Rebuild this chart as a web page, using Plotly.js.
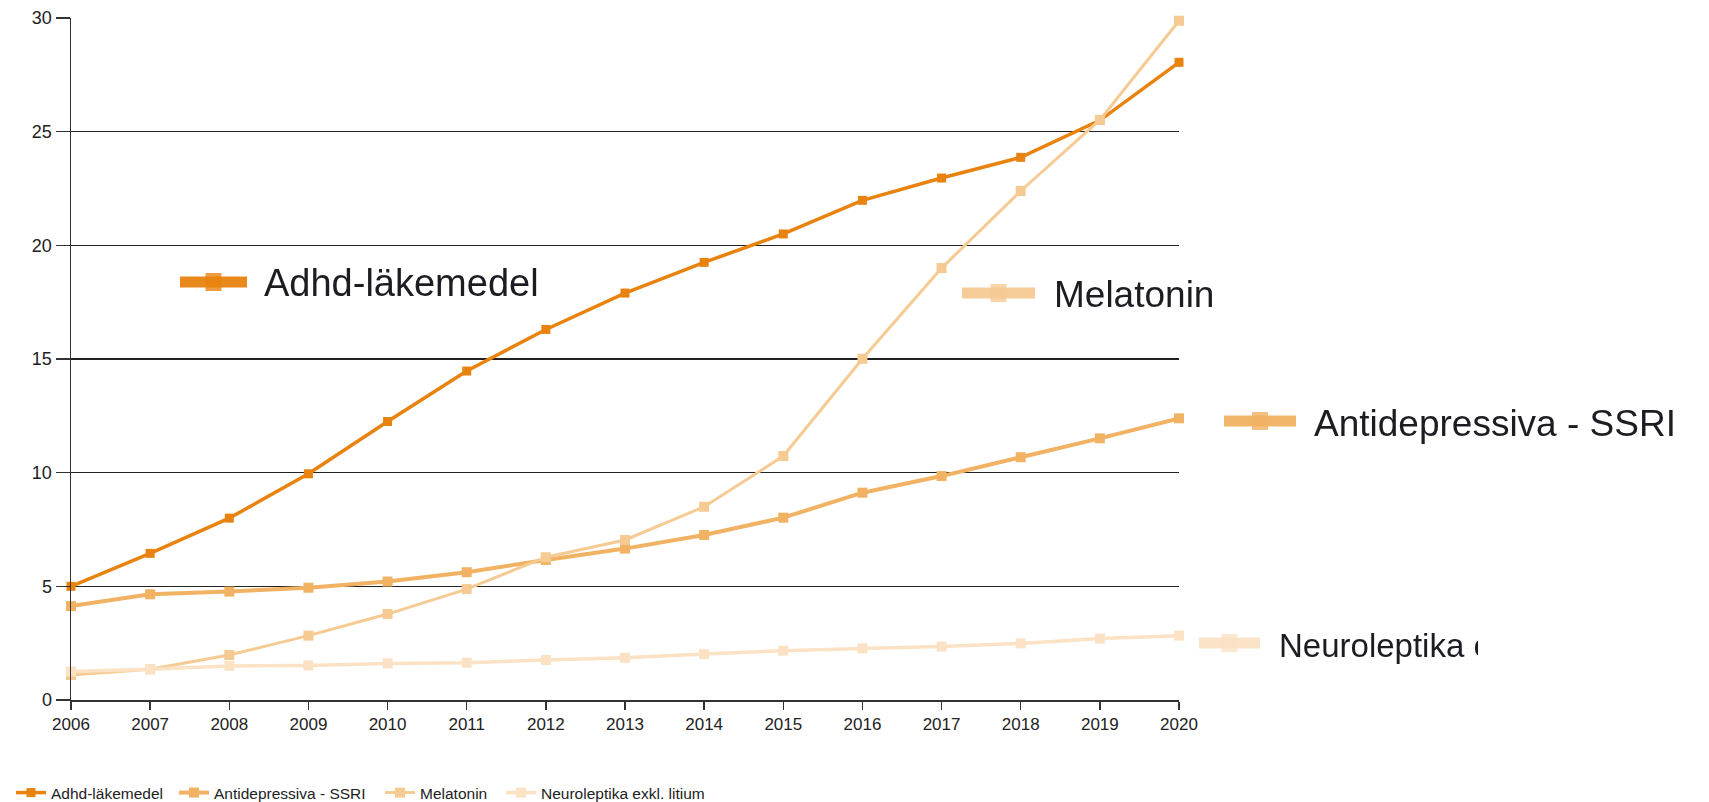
<!DOCTYPE html>
<html>
<head>
<meta charset="utf-8">
<script src="https://cdn.plot.ly/plotly-3.0.1.min.js"></script>
<style>
  html, body { margin: 0; padding: 0; background: #fff; }
  #chart { width: 1709px; height: 802px; }
  /* the enlarged series labels are soft */
  #chart .annotation, #chart .layer-above .shapelayer { filter: blur(0.7px); }
</style>
</head>
<body>
<div id="chart"></div>
<script>
// Years on the x axis
const years = [2006, 2007, 2008, 2009, 2010, 2011, 2012, 2013, 2014, 2015, 2016, 2017, 2018, 2019, 2020];

// Series names
const seriesNames = ["Adhd-läkemedel", "Antidepressiva - SSRI", "Melatonin", "Neuroleptika exkl. litium"];

// Values per series
const adhd        = [5.0, 6.45, 8.0, 9.95, 12.25, 14.47, 16.3, 17.9, 19.25, 20.5, 21.98, 22.96, 23.87, 25.5, 28.05];
const ssri        = [4.13, 4.65, 4.77, 4.94, 5.21, 5.62, 6.16, 6.66, 7.26, 8.02, 9.12, 9.85, 10.68, 11.51, 12.39];
const melatonin   = [1.10, 1.35, 1.98, 2.83, 3.78, 4.88, 6.28, 7.04, 8.5, 10.73, 15.01, 19.0, 22.39, 25.52, 29.88];
const neuroleptika = [1.25, 1.35, 1.50, 1.52, 1.61, 1.64, 1.76, 1.86, 2.02, 2.17, 2.27, 2.35, 2.49, 2.70, 2.83];

const yTicks = [0, 5, 10, 15, 20, 25, 30];

const seriesValues = [adhd, ssri, melatonin, neuroleptika];
const colors = ["#E8830F", "#F1B263", "#F6CA93", "#FBE2C4"];
const lineWidths = [3.5, 4, 3, 3.5];
const markerSizes = [9, 10, 10, 10];

// one legend per series so each bottom key sits at its own spot
const legendIds = ["legend", "legend2", "legend3", "legend4"];

const traces = seriesValues.map((vals, i) => ({
  type: "scatter",
  mode: "lines+markers",
  name: seriesNames[i],
  legend: legendIds[i],
  x: years,
  y: vals,
  cliponaxis: false,
  line: { color: colors[i], width: lineWidths[i] },
  marker: { color: colors[i], size: markerSizes[i], symbol: "square" }
}));

// Plot area in pixels
const W = 1709, H = 802;
const plotL = 71, plotR = 1179, plotT = 18, plotB = 700;
const px = x => (x - plotL) / (plotR - plotL);
const py = y => (plotB - y) / (plotB - plotT);

// Enlarged series labels with their key swatch
const bigLabels = [
  { i: 0, kx0: 180, kx1: 247, ky: 282, tx: 262, ty: 283, size: 38 },
  { i: 2, kx0: 962, kx1: 1035, ky: 293, tx: 1052, ty: 294, size: 37 },
  { i: 1, kx0: 1224, kx1: 1296, ky: 421, tx: 1312, ty: 423, size: 37 },
  { i: 3, kx0: 1199, kx1: 1260, ky: 643, tx: 1277, ty: 645, size: 33, clip: 199 }
];

const shapes = [];
const annotations = [];
bigLabels.forEach(b => {
  const c = colors[b.i];
  shapes.push({
    type: "line", xref: "paper", yref: "paper",
    x0: px(b.kx0), x1: px(b.kx1), y0: py(b.ky), y1: py(b.ky),
    line: { color: c, width: 11 }, opacity: 0.95
  });
  const cx = (b.kx0 + b.kx1) / 2;
  shapes.push({
    type: "rect", xref: "paper", yref: "paper",
    x0: px(cx - 8), x1: px(cx + 8), y0: py(b.ky + 9), y1: py(b.ky - 9),
    line: { width: 0 }, fillcolor: c, opacity: 0.8
  });
  const ann = {
    xref: "paper", yref: "paper",
    x: px(b.tx), y: py(b.ty),
    xanchor: "left", yanchor: "middle",
    text: seriesNames[b.i],
    showarrow: false,
    align: "left",
    font: { family: "Liberation Sans, Arial, sans-serif", size: b.size, color: "#1c1c22" }
  };
  if (b.clip) ann.width = b.clip;
  annotations.push(ann);
});

// Bottom keys: left edge of each legend box in pixels
const legendLeft = [11, 174, 380, 501];
const legendRowY = 793;

const layout = {
  width: W, height: H,
  margin: { l: plotL, r: W - plotR, t: plotT, b: H - plotB, pad: 0, autoexpand: false },
  paper_bgcolor: "#ffffff",
  plot_bgcolor: "#ffffff",
  font: { family: "Liberation Sans, Arial, sans-serif", color: "#222" },
  showlegend: true,
  xaxis: {
    range: [years[0], years[years.length - 1]],
    tickvals: years,
    ticktext: years.map(String),
    ticks: "outside", ticklen: 8, tickwidth: 1.3, tickcolor: "#333",
    showline: true, linecolor: "#333", linewidth: 1.5,
    showgrid: false, zeroline: false,
    tickfont: { size: 17, color: "#222" }
  },
  yaxis: {
    range: [0, 30],
    tickvals: yTicks,
    ticks: "outside", ticklen: 14, tickwidth: 1.3, tickcolor: "#333",
    showline: true, linecolor: "#333", linewidth: 1.5,
    showgrid: true, gridcolor: "#222", gridwidth: 1.2,
    zeroline: false,
    tickfont: { size: 18, color: "#222" }
  },
  shapes: shapes,
  annotations: annotations
};

legendIds.forEach((id, i) => {
  layout[id] = {
    orientation: "h",
    x: px(legendLeft[i]), xanchor: "left",
    y: py(legendRowY), yanchor: "middle",
    font: { size: 15.5, color: "#222" },
    itemwidth: 30,
    bgcolor: "rgba(0,0,0,0)",
    borderwidth: 0
  };
});

Plotly.newPlot("chart", traces, layout, { staticPlot: true, displayModeBar: false });
</script>
</body>
</html>
